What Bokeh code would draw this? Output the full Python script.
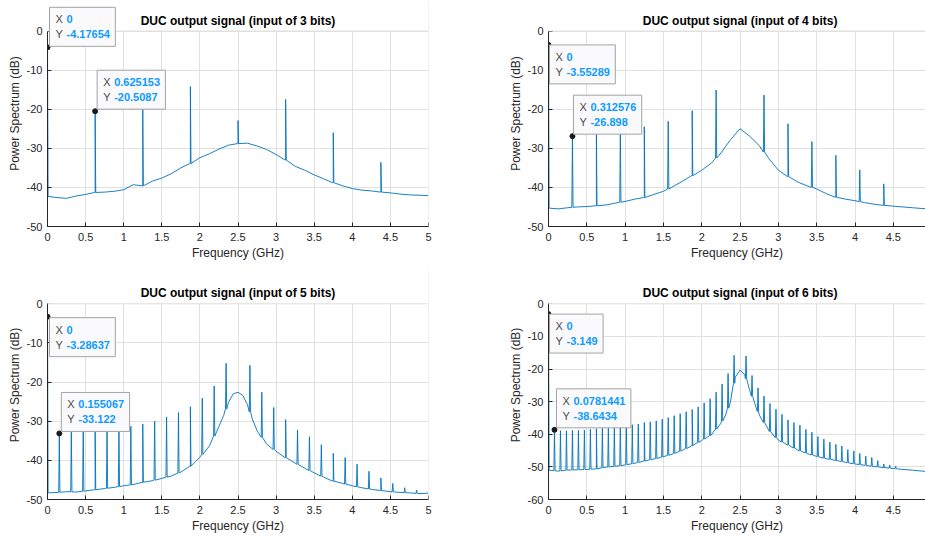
import numpy as np
from bokeh.plotting import figure
from bokeh.layouts import column, row
from bokeh.models import Label, FixedTicker, NumeralTickFormatter, BoxAnnotation, Span
from bokeh.embed import file_html
from bokeh.resources import INLINE

# ---------------- data ----------------
x_ticks = [0, 0.5, 1, 1.5, 2, 2.5, 3, 3.5, 4, 4.5, 5]
x_tick_labels = ["0", "0.5", "1", "1.5", "2", "2.5", "3", "3.5", "4", "4.5", "5"]
y_ticks_50 = [-50, -40, -30, -20, -10, 0]
y_tick_labels_50 = ["-50", "-40", "-30", "-20", "-10", "0"]
y_ticks_60 = [-60, -50, -40, -30, -20, -10, 0]
y_tick_labels_60 = ["-60", "-50", "-40", "-30", "-20", "-10", "0"]

titles = ["DUC output signal (input of 3 bits)", "DUC output signal (input of 4 bits)",
          "DUC output signal (input of 5 bits)", "DUC output signal (input of 6 bits)"]

# noise floor (GHz, dB)
floor_f_3 = [0.0, 0.125, 0.25, 0.375, 0.5, 0.625, 0.75, 0.875, 1.0, 1.125, 1.25, 1.375, 1.5, 1.625,
             1.75, 1.875, 2.0, 2.125, 2.25, 2.375, 2.5, 2.625, 2.75, 2.875, 3.0, 3.125, 3.25, 3.375,
             3.5, 3.625, 3.75, 3.875, 4.0, 4.125, 4.25, 4.375, 4.5, 4.625, 4.75, 4.875, 5.0]
floor_db_3 = [-42.3, -42.6, -42.8, -42.2, -41.8, -41.3, -41.2, -41.0, -40.6, -39.3, -39.6, -38.4, -37.6, -36.5,
              -35.0, -33.9, -32.4, -31.4, -30.2, -29.2, -28.8, -28.7, -29.4, -30.3, -31.6, -33.0, -34.6, -35.6,
              -36.8, -37.8, -38.8, -39.6, -40.3, -40.7, -40.9, -41.2, -41.4, -41.7, -41.9, -42.0, -42.1]
spur_f_3 = [0.0, 0.625153, 1.25, 1.875, 2.5, 3.125, 3.75, 4.375]
spur_db_3 = [-4.17654, -20.5087, -20.0, -14.2, -22.9, -17.5, -26.0, -33.6]

floor_f_4 = [0.0, 0.125, 0.25, 0.375, 0.5, 0.625, 0.75, 0.875, 1.0, 1.125, 1.25, 1.375, 1.5, 1.625,
             1.75, 1.875, 2.0, 2.125, 2.25, 2.375, 2.5, 2.625, 2.75, 2.875, 3.0, 3.125, 3.25, 3.375,
             3.5, 3.625, 3.75, 3.875, 4.0, 4.125, 4.25, 4.375, 4.5, 4.625, 4.75, 4.875, 5.0]
floor_db_4 = [-45.3, -45.5, -45.2, -45.0, -44.9, -44.7, -44.5, -44.0, -43.6, -43.0, -42.6, -41.8, -41.0, -39.8,
              -38.4, -37.0, -35.6, -33.8, -31.2, -27.8, -25.0, -26.9, -29.3, -32.6, -35.6, -37.2, -38.6, -39.6,
              -40.4, -41.6, -42.5, -43.0, -43.4, -43.9, -44.3, -44.6, -44.8, -45.0, -45.2, -45.4, -45.5]
spur_f_4 = [0.0, 0.312576, 0.625, 0.9375, 1.25, 1.5625, 1.875, 2.1875, 2.8125, 3.125, 3.4375, 3.75, 4.0625, 4.375]
spur_db_4 = [-3.55289, -26.898, -25.8, -25.6, -24.5, -23.1, -20.4, -15.1, -16.4, -23.7, -28.3, -31.8, -35.5, -39.1]

floor_f_5 = [0.0, 0.125, 0.25, 0.375, 0.5, 0.625, 0.75, 0.875, 1.0, 1.125, 1.25, 1.375, 1.5, 1.625,
             1.75, 1.875, 2.0, 2.125, 2.25, 2.3125, 2.375, 2.4375, 2.5, 2.5625, 2.625, 2.6875, 2.75, 2.875,
             3.0, 3.125, 3.25, 3.375, 3.5, 3.625, 3.75, 3.875, 4.0, 4.125, 4.25, 4.375, 4.5, 4.625, 4.75,
             4.875, 5.0]
floor_db_5 = [-48.3, -48.2, -48.0, -48.1, -47.8, -47.5, -47.2, -46.9, -46.5, -46.2, -45.6, -45.2, -44.6, -44.0,
              -43.0, -41.5, -39.2, -36.3, -31.3, -28.5, -25.2, -23.0, -22.6, -23.4, -25.8, -29.4, -32.4, -35.8,
              -37.7, -39.3, -40.7, -42.0, -43.2, -44.3, -45.3, -45.9, -46.5, -47.0, -47.4, -47.7, -48.0, -48.2, -48.3,
              -48.5, -48.4]
spur_f_5 = [0.0, 0.155067, 0.3125, 0.46875, 0.625, 0.78125, 0.9375, 1.09375, 1.25, 1.40625, 1.5625, 1.71875,
            1.875, 2.03125, 2.1875, 2.34375, 2.65625, 2.8125, 2.96875, 3.125, 3.28125, 3.4375, 3.59375, 3.75,
            3.90625, 4.0625, 4.21875, 4.375, 4.53125, 4.6875, 4.84375]
spur_db_5 = [-3.28637, -33.122, -32.8, -32.7, -32.5, -32.4, -32.0, -31.3, -30.7, -30.0, -28.9, -27.8,
             -26.3, -24.1, -21.0, -15.2, -15.7, -22.6, -26.5, -29.6, -32.3, -34.0, -36.0, -38.2,
             -39.3, -41.0, -42.8, -44.5, -45.9, -47.0, -47.6]

floor_f_6 = [0.0, 0.125, 0.25, 0.375, 0.5, 0.625, 0.75, 0.875, 1.0, 1.125, 1.25, 1.375, 1.5, 1.625,
             1.75, 1.875, 2.0, 2.125, 2.25, 2.3125, 2.375, 2.4375, 2.5, 2.5625, 2.625, 2.6875, 2.75, 2.875,
             3.0, 3.125, 3.25, 3.375, 3.5, 3.625, 3.75, 3.875, 4.0, 4.125, 4.25, 4.375, 4.5, 4.625, 4.75,
             4.875, 5.0]
floor_db_6 = [-51.0, -51.3, -51.0, -50.9, -50.8, -50.6, -50.1, -49.8, -49.4, -48.9, -48.2, -47.6, -46.9, -46.0,
              -44.9, -43.5, -41.9, -40.2, -36.6, -34.0, -30.0, -22.5, -20.3, -21.8, -26.5, -30.2, -34.0, -38.8,
              -41.8, -43.3, -44.8, -45.9, -46.8, -47.5, -48.0, -48.6, -49.1, -49.5, -49.9, -50.2, -50.5, -50.8, -51.0,
              -51.3, -51.5]
spur_f_6 = [0.0, 0.0781441, 0.15625, 0.234375, 0.3125, 0.390625, 0.46875, 0.546875, 0.625, 0.703125, 0.78125,
            0.859375, 0.9375, 1.015625, 1.09375, 1.171875, 1.25, 1.328125, 1.40625, 1.484375, 1.5625, 1.640625,
            1.71875, 1.796875, 1.875, 1.953125, 2.03125, 2.109375, 2.1875, 2.265625, 2.34375, 2.421875,
            2.578125, 2.65625, 2.734375, 2.8125, 2.890625, 2.96875, 3.046875, 3.125, 3.203125, 3.28125,
            3.359375, 3.4375, 3.515625, 3.59375, 3.671875, 3.75, 3.828125, 3.90625, 3.984375, 4.0625,
            4.140625, 4.21875, 4.296875, 4.375, 4.453125, 4.53125]
spur_db_6 = [-3.149, -38.6434, -38.9, -38.9, -38.8, -38.8, -38.7, -38.5, -38.3, -38.1, -37.9,
             -37.7, -37.5, -37.3, -37.1, -36.9, -36.4, -36.2, -35.9, -35.4, -34.9,
             -34.3, -33.7, -33.1, -32.4, -31.6, -30.4, -29.1, -27.1, -24.6, -21.4, -15.8,
             -16.0, -22.0, -25.8, -28.3, -30.6, -32.3, -33.9, -35.6, -36.4, -37.2,
             -38.5, -39.4, -40.7, -41.5, -42.4, -43.1, -43.6, -44.7, -45.1, -45.9,
             -46.7, -47.1, -48.1, -49.1, -49.5, -49.8]

# data tips (x, y) per panel
tips_3 = [(0.0, -4.17654), (0.625153, -20.5087)]
tips_4 = [(0.0, -3.55289), (0.312576, -26.898)]
tips_5 = [(0.0, -3.28637), (0.155067, -33.122)]
tips_6 = [(0.0, -3.149), (0.0781441, -38.6434)]

# ---------------- styling ----------------
FONT = "Liberation Sans"
LINE_COLOR = "#0072BD"
AX_COLOR = "#262626"
GRID_COLOR = "#e0e0e0"
BOX_BG = "#fafafc"
SPIKE_HW = 0.008


def build_trace(ff, fd, sf, sd):
    xs = list(ff)
    ys = list(fd)
    for f, d in zip(sf, sd):
        base = float(np.interp(f, ff, fd))
        if f <= 0:
            xs += [0.0, SPIKE_HW]
            ys += [d, base]
        else:
            xs += [f - SPIKE_HW, f, f + SPIKE_HW]
            ys += [base, d, base]
    order = np.argsort(np.array(xs), kind="stable")
    return np.array(xs)[order], np.array(ys)[order]


def add_tip(p, x, y, dx, dy):
    xs = f"{x:g}"
    ys = f"{y:g}"
    common = dict(x=x, y=y, x_units="data", y_units="data", text_font=FONT,
                  text_font_size="11px", text_align="left", text_baseline="top",
                  text_line_height=1.25, padding=6)
    box = Label(x_offset=dx, y_offset=dy, text=f"X {xs}\nY {ys}", text_font_style="bold",
                text_color=BOX_BG, background_fill_color=BOX_BG, border_line_color="#a3a3a3",
                border_line_width=1, **common)
    keys = Label(x_offset=dx, y_offset=dy, text="X\nY", text_color="#4a4a4a", **common)
    vals = Label(x_offset=dx + 11, y_offset=dy, text=f"{xs}\n{ys}", text_color="#0d9bff",
                 text_font_style="bold", **common)
    p.add_layout(box)
    p.add_layout(keys)
    p.add_layout(vals)


def make_panel(title, ff, fd, sf, sd, tips, tip_offsets, width, height, x_end, y_ticks, y_labels,
               mb_left, mb_right, top_px, mb_bottom):
    # the frame reaches the top of the figure so that data tips and title are not clipped;
    # the part above 0 dB is blanked and holds the title
    frame_h = height - mb_bottom
    y_lo, y_hi = y_ticks[0], y_ticks[-1]
    y_top = y_hi + (y_hi - y_lo) * top_px / (frame_h - top_px)
    p = figure(width=width, height=height, x_range=(0, x_end), y_range=(y_lo, y_top),
               output_backend="svg", toolbar_location=None,
               min_border_left=mb_left, min_border_right=mb_right,
               min_border_top=0, min_border_bottom=mb_bottom)
    p.background_fill_color = "white"
    p.border_fill_color = "white"
    p.outline_line_color = None

    p.xaxis.ticker = FixedTicker(ticks=x_ticks)
    p.xaxis.formatter = NumeralTickFormatter(format="0.[0]")
    p.xaxis.major_label_overrides = {t: l for t, l in zip(x_ticks, x_tick_labels)}
    p.yaxis.ticker = FixedTicker(ticks=y_ticks)
    p.yaxis.formatter = NumeralTickFormatter(format="0")
    p.yaxis.major_label_overrides = {t: l for t, l in zip(y_ticks, y_labels)}
    p.yaxis.bounds = (y_lo, y_hi)

    p.xaxis.axis_label = "Frequency (GHz)"
    p.yaxis.axis_label = "Power Spectrum (dB)"
    for ax in (p.xaxis, p.yaxis):
        ax.axis_label_text_font = FONT
        ax.axis_label_text_font_size = "12px"
        ax.axis_label_text_font_style = "normal"
        ax.axis_label_text_color = AX_COLOR
        ax.axis_label_standoff = 2
        ax.major_label_text_font = FONT
        ax.major_label_text_font_size = "11px"
        ax.major_label_text_color = AX_COLOR
        ax.axis_line_color = AX_COLOR
        ax.major_tick_line_color = AX_COLOR
        ax.major_tick_in = 4
        ax.major_tick_out = 0
        ax.minor_tick_line_color = None
    p.xaxis.major_label_standoff = 6
    p.yaxis.major_label_standoff = 5

    p.xgrid.ticker = FixedTicker(ticks=x_ticks)
    p.ygrid.ticker = FixedTicker(ticks=y_ticks)
    p.grid.grid_line_color = GRID_COLOR
    p.grid.grid_line_width = 1

    tx, ty = build_trace(ff, fd, sf, sd)
    p.line(tx, ty, line_color=LINE_COLOR, line_width=0.9)

    # box edges (right at last x tick, top at 0 dB) and blank area above the axes
    p.add_layout(Span(location=x_ticks[-1], dimension="height", line_color=GRID_COLOR, line_width=1))
    p.add_layout(BoxAnnotation(bottom=y_hi, fill_color="white", fill_alpha=1.0, line_color=None))
    p.add_layout(Span(location=y_hi, dimension="width", line_color=GRID_COLOR, line_width=1))

    p.add_layout(Label(x=(x_ticks[0] + x_ticks[-1]) / 2, y=y_hi, y_offset=10.5, text=title,
                       text_font=FONT, text_font_size="12px", text_font_style="bold",
                       text_color="black", text_align="center", text_baseline="middle"))

    for (x, y), (dx, dy) in zip(tips, tip_offsets):
        add_tip(p, x, y, dx, dy)
    p.scatter([t[0] for t in tips], [t[1] for t in tips], size=5, fill_color="#1a1a1a",
              line_color="#1a1a1a")
    return p


p1 = make_panel(titles[0], floor_f_3, floor_db_3, spur_f_3, spur_db_3, tips_3, [(2, 40), (2, 41)],
                462, 270, 5, y_ticks_50, y_tick_labels_50, 47, 34, 30.5, 44)
p2 = make_panel(titles[1], floor_f_4, floor_db_4, spur_f_4, spur_db_4, tips_4, [(1, 0), (1, 41)],
                463, 270, 4.92, y_ticks_50, y_tick_labels_50, 86, 0, 30.5, 44)
p3 = make_panel(titles[2], floor_f_5, floor_db_5, spur_f_5, spur_db_5, tips_5, [(2, -1), (2, 41)],
                462, 268, 5, y_ticks_50, y_tick_labels_50, 47, 34, 33.3, 39)
p4 = make_panel(titles[3], floor_f_6, floor_db_6, spur_f_6, spur_db_6, tips_6, [(1, 0), (2, 41)],
                463, 268, 4.92, y_ticks_60, y_tick_labels_60, 86, 0, 33.3, 39)

layout = column(row(p1, p2), row(p3, p4))
open("out.html", "w").write(file_html(layout, INLINE))
